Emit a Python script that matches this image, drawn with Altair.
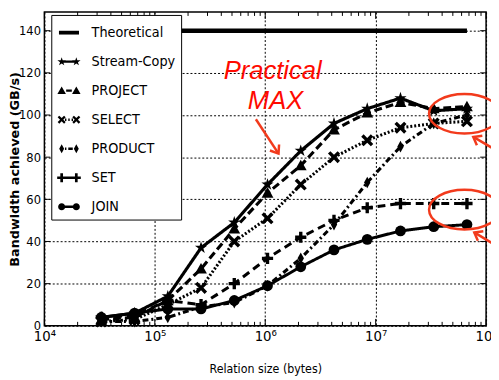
import altair as alt
import pandas as pd

# ---------------- data ----------------
sizes = [32768, 65536, 131072, 262144, 524288, 1048576, 2097152,
         4194304, 8388608, 16777216, 33554432, 67108864]
series_names = ["Stream-Copy", "PROJECT", "SELECT", "PRODUCT", "SET", "JOIN"]
stream_copy = [4, 6, 14, 37, 49, 67, 83, 96, 103, 108, 102, 103]
project = [3, 4, 12, 27, 46, 63, 76, 93, 101, 106, 103, 104]
select = [2, 3, 10, 18, 40, 51, 67, 80, 88, 94, 96, 97]
product = [2, 2, 4, 9, 11, 19, 32, 48, 68, 85, 96, 100]
set_op = [4, 5, 12, 10, 20, 32, 42, 50, 56, 58, 58, 58]
join = [4, 6, 8, 8, 12, 19, 28, 36, 41, 45, 47, 48]
theoretical_value = 140
legend_names = ["Theoretical"] + series_names

x_ticks = [1e4, 1e5, 1e6, 1e7, 1e8]
y_ticks = [0, 20, 40, 60, 80, 100, 120, 140]
x_minor_ticks = [m * 10 ** e for e in range(4, 8) for m in range(2, 10)]

ann_labels = ["Practical", "MAX"]
ann_label_x = [1.167e6, 1.24e6]
ann_label_y = [117.1, 102.7]
arrow_tail_x = [8.23e5, 1.253e8, 1.253e8]
arrow_tail_y = [98.0, 83.1, 37.8]
arrow_tip_x = [1.319e6, 7.66e7, 7.82e7]
arrow_tip_y = [81.7, 89.6, 44.3]
arrow_angle = [56.7, 210, 210]
ellipse_x = [6.37e7, 6.37e7]
ellipse_y = [100.6, 55.1]

# ---------------- tables ----------------
values = [stream_copy, project, select, product, set_op, join]
rows = []
for name, vals in zip(series_names, values):
    for s, v in zip(sizes, vals):
        rows.append({"series": name, "x": s, "y": v})
df = pd.DataFrame(rows)
theo_df = pd.DataFrame({"x": [sizes[0], sizes[-1]], "y": [theoretical_value] * 2})

# ---------------- marker paths ----------------
def poly(pts, dx=0.0, dy=0.0, s=1.0):
    return "M" + "L".join(f"{dx + x * s:.3f},{dy + y * s:.3f}" for x, y in pts) + "Z"

def circ(cx=0.0, cy=0.0, r=1.0):
    return (f"M{cx - r:.3f},{cy:.3f}A{r:.3f},{r:.3f},0,1,1,{cx + r:.3f},{cy:.3f}"
            f"A{r:.3f},{r:.3f},0,1,1,{cx - r:.3f},{cy:.3f}Z")

def seg(x0, x1, h=0.1):
    return f"M{x0:.3f},{-h:.3f}L{x1:.3f},{-h:.3f}L{x1:.3f},{h:.3f}L{x0:.3f},{h:.3f}Z"

star_pts = [(0, -1), (0.2245, -0.309), (0.951, -0.309), (0.363, 0.118), (0.588, 0.809),
            (0, 0.382), (-0.588, 0.809), (-0.363, 0.118), (-0.951, -0.309), (-0.2245, -0.309)]
tri_pts = [(0, -0.95), (0.95, 0.75), (-0.95, 0.75)]
x_pts = [(-1, -0.6), (-0.6, -1), (0, -0.4), (0.6, -1), (1, -0.6), (0.4, 0), (1, 0.6),
         (0.6, 1), (0, 0.4), (-0.6, 1), (-1, 0.6), (-0.4, 0)]
dia_pts = [(0, -1), (0.55, 0), (0, 1), (-0.55, 0)]
w = 0.3
plus_pts = [(-w, -1), (w, -1), (w, -w), (1, -w), (1, w), (w, w), (w, 1), (-w, 1),
            (-w, w), (-1, w), (-1, -w), (-w, -w)]

marker_paths = [poly(star_pts), poly(tri_pts), poly(x_pts), poly(dia_pts), poly(plus_pts), "circle"]
marker_sizes = [170, 120, 100, 140, 130, 80]

solid = seg(-0.62, 0.62)
dashed = seg(-0.24, 0.24)
dotted = seg(-0.34, -0.22) + seg(-0.06, 0.06) + seg(0.22, 0.34)
dashdot = seg(-0.34, -0.22) + seg(-0.06, 0.32)
c, s = 0.62, 0.38
legend_paths = [
    seg(-0.85, 0.85, 0.16),
    solid + poly(star_pts, -c, 0, s) + poly(star_pts, c, 0, s),
    dashed + poly(tri_pts, -c, 0, s) + poly(tri_pts, c, 0, s),
    dotted + poly(x_pts, -c, 0, 0.34) + poly(x_pts, c, 0, 0.34),
    dashdot + poly(dia_pts, -c, 0, s) + poly(dia_pts, c, 0, s),
    dashed + poly(plus_pts, -c, 0, s) + poly(plus_pts, c, 0, s),
    solid + circ(-c, 0, 0.3) + circ(c, 0, 0.3),
]

ellipse_path = "M-1,0A1,0.56,0,1,1,1,0A1,0.56,0,1,1,-1,0Z"
chevron_path = "M-1,-0.75L0,0L-1,0.75"

# ---------------- scales / axes ----------------
W, H = 449, 319
YMAX = H * 140 / 300
narrow = "DejaVu Sans Condensed, Liberation Sans Narrow, DejaVu Sans, sans-serif"
red = "#f23a1c"

xscale = alt.Scale(type="log", domain=[1e4, 1e8], nice=False)
yscale = alt.Scale(domain=[0, YMAX], nice=False, zero=False)
xaxis = alt.Axis(values=x_ticks,
                 labelExpr="'10' + ['\u2074','\u2075','\u2076','\u2077','\u2078'][round(log(datum.value)/LN10) - 4]",
                 title="Relation size (bytes)", grid=True, gridDash=[2, 2], gridColor="black",
                 gridWidth=1, gridOpacity=1, domain=False, ticks=False,
                 labelFont=narrow, labelFontSize=15, labelPadding=3, labelFlush=False,
                 labelOverlap=False, labelColor="black",
                 titleFont=narrow, titleFontSize=12.5, titleFontWeight="normal",
                 titlePadding=19, titleColor="black")
yaxis = alt.Axis(values=y_ticks, title="Bandwidth achieved (GB/s)", grid=True,
                 gridDash=[2, 2], gridColor="black", gridWidth=1, gridOpacity=1,
                 domain=False, ticks=False, labelFont=narrow, labelFontSize=13,
                 labelPadding=4, labelFlush=False, labelOverlap=False, labelColor="black",
                 titleFont="DejaVu Sans", titleFontSize=13, titleFontWeight="bold",
                 titleX=-30, titleY=H / 2, titleAngle=270, titleBaseline="middle",
                 titleAlign="center", titleColor="black")

def X(f="x"):
    return alt.X(f"{f}:Q", scale=xscale, axis=xaxis)

def Y(f="y"):
    return alt.Y(f"{f}:Q", scale=yscale, axis=yaxis)

# ---------------- layers ----------------
theo = alt.Chart(theo_df).mark_line(color="black", strokeWidth=4.5).encode(x=X(), y=Y())

lines = alt.Chart(df).mark_line(color="black").encode(
    x=X(), y=Y(), detail="series:N",
    strokeDash=alt.StrokeDash("series:N", legend=None,
                              scale=alt.Scale(domain=series_names,
                                              range=[[1, 0], [8, 4], [2, 2], [6, 3, 2, 3], [8, 5], [1, 0]])),
    strokeWidth=alt.StrokeWidth("series:N", legend=None,
                                scale=alt.Scale(domain=series_names, range=[3.2, 3, 3, 3, 3, 3])),
)

points = alt.Chart(df).mark_point(filled=True, color="black", opacity=1).encode(
    x=X(), y=Y(),
    shape=alt.Shape("series:N", legend=None,
                    scale=alt.Scale(domain=series_names, range=marker_paths)),
    size=alt.Size("series:N", legend=None,
                  scale=alt.Scale(domain=series_names, range=marker_sizes)),
)

ann_df = pd.DataFrame({"label": ann_labels, "x": ann_label_x, "y": ann_label_y})
ann_text = alt.Chart(ann_df).mark_text(
    font="Liberation Sans, Arial, sans-serif", fontSize=26, fontStyle="italic",
    color="#ff0a00", align="center", baseline="alphabetic", clip=False
).encode(x=X(), y=Y(), text="label:N")

arrow_df = pd.DataFrame({"x": arrow_tail_x, "y": arrow_tail_y, "x2": arrow_tip_x,
                         "y2": arrow_tip_y, "angle": arrow_angle})
arrow_shaft = alt.Chart(arrow_df).mark_rule(color=red, strokeWidth=2.5, clip=False).encode(
    x=X(), y=Y(), x2="x2:Q", y2="y2:Q")
arrow_head = alt.Chart(arrow_df).mark_point(
    shape=chevron_path, filled=False, color=red, strokeWidth=2.5, size=220,
    opacity=1, clip=False, strokeJoin="miter"
).encode(x=X("x2"), y=Y("y2"), angle=alt.Angle("angle:Q", scale=None))

ell_df = pd.DataFrame({"x": ellipse_x, "y": ellipse_y})
ellipses = alt.Chart(ell_df).mark_point(
    shape=ellipse_path, filled=False, color=red, strokeWidth=2.5, size=5184,
    opacity=1, clip=False
).encode(x=X(), y=Y())

minor_df = pd.DataFrame({"x": x_minor_ticks})
major_df = pd.DataFrame({"x": x_ticks})
ytick_df = pd.DataFrame({"y": y_ticks})
tick_layers = [
    alt.Chart(minor_df).mark_rule(color="black", strokeWidth=1).encode(x=X(), y=alt.value(H), y2=alt.value(H - 4)),
    alt.Chart(minor_df).mark_rule(color="black", strokeWidth=1).encode(x=X(), y=alt.value(0), y2=alt.value(4)),
    alt.Chart(major_df).mark_rule(color="black", strokeWidth=1).encode(x=X(), y=alt.value(H), y2=alt.value(H - 7)),
    alt.Chart(major_df).mark_rule(color="black", strokeWidth=1).encode(x=X(), y=alt.value(0), y2=alt.value(7)),
    alt.Chart(ytick_df).mark_rule(color="black", strokeWidth=1).encode(y=Y(), x=alt.value(0), x2=alt.value(6)),
    alt.Chart(ytick_df).mark_rule(color="black", strokeWidth=1).encode(y=Y(), x=alt.value(W), x2=alt.value(W - 6)),
]

leg_df = pd.DataFrame({"series": legend_names})
legend_layer = alt.Chart(leg_df).mark_point(filled=True, color="black", opacity=0).encode(
    x=alt.value(0), y=alt.value(0),
    shape=alt.Shape("series:N",
                    scale=alt.Scale(domain=legend_names, range=legend_paths),
                    legend=alt.Legend(
                        title=None, orient="none", legendX=7, legendY=3, padding=6,
                        strokeColor="black", fillColor="white", cornerRadius=0,
                        labelFont=narrow, labelFontSize=14.5, labelColor="black",
                        labelOffset=11, labelLimit=300,
                        symbolSize=576, symbolStrokeWidth=0, symbolFillColor="black",
                        symbolStrokeColor="black", symbolOpacity=1, rowPadding=10.5)),
)

chart = alt.layer(
    theo, lines, points, *tick_layers, ann_text, arrow_shaft, arrow_head, ellipses, legend_layer
).resolve_scale(shape="independent", size="independent").properties(
    width=W, height=H,
    autosize=alt.AutoSizeParams(type="none"),
    padding={"left": 37, "top": 1, "right": 5, "bottom": 50},
).configure_view(stroke="black", strokeWidth=1.5)

chart.save("out.html", embed_options={"renderer": "svg", "actions": False})
